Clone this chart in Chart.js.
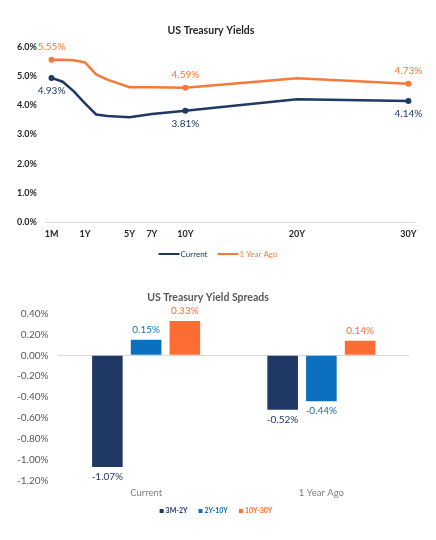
<!DOCTYPE html>
<html>
<head>
<meta charset="utf-8">
<title>US Treasury Yields</title>
<script src="https://cdn.jsdelivr.net/npm/chart.js@4.4.1/dist/chart.umd.min.js"></script>
<style>
  html, body { margin: 0; padding: 0; background: #fff; }
  #wrap { position: relative; width: 436px; height: 540px; }
  .box { position: absolute; left: 0; width: 436px; }
  #top { top: 0; height: 272px; }
  #bottom { top: 272px; height: 268px; }
</style>
</head>
<body>
<div id="wrap">
  <div class="box" id="top"><canvas id="yieldChart"></canvas></div>
  <div class="box" id="bottom"><canvas id="spreadChart"></canvas></div>
</div>
<script>
// maturity axis: one slot per year after 1Y, only some slots carry a label
const axisLabels = ['1M', '3M', '6M', '1Y', '2Y', '3Y', '4Y', '5Y', '6Y', '7Y', '8Y', '9Y', '10Y',
  '11Y', '12Y', '13Y', '14Y', '15Y', '16Y', '17Y', '18Y', '19Y', '20Y',
  '21Y', '22Y', '23Y', '24Y', '25Y', '26Y', '27Y', '28Y', '29Y', '30Y'];
const shownTicks = ['1M', '1Y', '5Y', '7Y', '10Y', '20Y', '30Y'];

// yield curve (in %)
const maturities = ['1M', '3M', '6M', '1Y', '2Y', '3Y', '5Y', '7Y', '10Y', '20Y', '30Y'];
const currentYields = [4.93, 4.80, 4.47, 4.06, 3.68, 3.63, 3.59, 3.70, 3.81, 4.20, 4.14];
const yearAgoYields = [5.55, 5.55, 5.53, 5.46, 5.05, 4.87, 4.61, 4.61, 4.59, 4.92, 4.73];
const labelledMaturities = ['1M', '10Y', '30Y'];

// spreads (in %)
const spreadGroups = ['Current', '1 Year Ago'];
const spread3m2y = [-1.07, -0.52];
const spread2y10y = [0.15, -0.44];
const spread10y30y = [0.33, 0.14];

const NAVY = '#1f3864';
const ORANGE = '#f4793b';
const BLUE = '#0b70c0';
const BAR_ORANGE = '#fd6d33';
const FONT = "Lato, 'Liberation Sans', sans-serif";

// writes the value next to a point or bar end
const valueLabels = {
    id: 'valueLabels',
    afterDatasetsDraw(chart, args, opts) {
        const ctx = chart.ctx;
        chart.data.datasets.forEach((ds, i) => {
            const meta = chart.getDatasetMeta(i);
            meta.data.forEach((el, j) => {
                const raw = ds.data[j];
                const v = (raw !== null && typeof raw === 'object') ? raw.y : raw;
                if (ds.labelAt && !ds.labelAt.includes(raw.x)) return;
                let dy;
                if (ds.labelSide === 'above') dy = -opts.gap;
                else if (ds.labelSide === 'below') dy = opts.gap;
                else dy = v >= 0 ? -opts.gap : opts.gap;
                ctx.save();
                ctx.font = opts.font;
                ctx.fillStyle = ds.labelColor;
                ctx.textAlign = 'center';
                ctx.textBaseline = 'middle';
                ctx.fillText(v.toFixed(2) + '%', el.x, el.y + dy);
                ctx.restore();
            });
        });
    }
};

// legend drawn by hand so its spacing can match the original
const bottomLegend = {
    id: 'bottomLegend',
    afterDraw(chart, args, o) {
        const ctx = chart.ctx;
        ctx.save();
        ctx.font = o.font;
        const items = chart.data.datasets.map(ds => ({
            text: ds.label, color: ds.labelColor, w: ctx.measureText(ds.label).width
        }));
        const total = items.reduce((s, it) => s + o.markW + o.markGap + it.w, 0) + o.itemGap * (items.length - 1);
        let x = o.cx - total / 2;
        items.forEach(it => {
            ctx.fillStyle = it.color;
            ctx.fillRect(x, o.y - o.markH / 2, o.markW, o.markH);
            x += o.markW + o.markGap;
            ctx.textAlign = 'left';
            ctx.textBaseline = 'middle';
            ctx.fillText(it.text, x, o.y);
            x += it.w + o.itemGap;
        });
        ctx.restore();
    }
};

function toPoints(values) {
    return maturities.map((m, i) => ({ x: m, y: values[i] }));
}

function markRadius(ctx) {
    return ctx.raw && labelledMaturities.includes(ctx.raw.x) ? 3 : 0;
}

// Gráfico 1: curva de rendimientos
new Chart(document.getElementById('yieldChart').getContext('2d'), {
    type: 'line',
    data: {
        labels: axisLabels,
        datasets: [{
            label: 'Current',
            data: toPoints(currentYields),
            borderColor: NAVY,
            backgroundColor: NAVY,
            borderWidth: 2.5,
            pointRadius: markRadius,
            pointBackgroundColor: NAVY,
            pointBorderWidth: 0,
            tension: 0,
            spanGaps: true,
            labelAt: labelledMaturities,
            labelSide: 'below',
            labelColor: NAVY
        }, {
            label: '1 Year Ago',
            data: toPoints(yearAgoYields),
            borderColor: ORANGE,
            backgroundColor: ORANGE,
            borderWidth: 2.5,
            pointRadius: markRadius,
            pointBackgroundColor: ORANGE,
            pointBorderWidth: 0,
            tension: 0,
            spanGaps: true,
            labelAt: labelledMaturities,
            labelSide: 'above',
            labelColor: ORANGE
        }]
    },
    options: {
        responsive: true,
        maintainAspectRatio: false,
        animation: false,
        layout: { padding: { top: 24, left: 8, right: 22, bottom: 27 } },
        scales: {
            x: {
                type: 'category',
                offset: true,
                grid: { display: false, drawTicks: false },
                border: { display: true, color: '#d9d9d9', width: 1 },
                ticks: {
                    autoSkip: false,
                    maxRotation: 0,
                    padding: 6,
                    color: '#262626',
                    font: { family: FONT, size: 9, weight: 'bold' },
                    callback: (val, idx) => shownTicks.includes(axisLabels[idx]) ? axisLabels[idx] : ''
                }
            },
            y: {
                min: 0,
                max: 6,
                grid: { display: false, drawTicks: false },
                border: { display: false },
                ticks: {
                    stepSize: 1,
                    padding: 9,
                    color: '#262626',
                    font: { family: FONT, size: 9, weight: 'bold' },
                    callback: v => v.toFixed(1) + '%'
                }
            }
        },
        plugins: {
            title: {
                display: true,
                text: 'US Treasury Yields',
                color: '#262626',
                font: { family: FONT, size: 10.5, weight: 'bold' },
                padding: { top: 0, bottom: 10 }
            },
            legend: { display: false },
            tooltip: { enabled: false },
            valueLabels: { gap: 13, font: '10px ' + FONT },
            bottomLegend: { cx: 218, y: 254, markW: 21, markH: 2, markGap: 1, itemGap: 10, font: '8px ' + FONT }
        }
    },
    plugins: [valueLabels, bottomLegend]
});

// Gráfico 2: diferenciales
new Chart(document.getElementById('spreadChart').getContext('2d'), {
    type: 'bar',
    data: {
        labels: spreadGroups,
        datasets: [{
            label: '3M-2Y',
            data: spread3m2y,
            backgroundColor: NAVY,
            labelColor: NAVY
        }, {
            label: '2Y-10Y',
            data: spread2y10y,
            backgroundColor: BLUE,
            labelColor: BLUE
        }, {
            label: '10Y-30Y',
            data: spread10y30y,
            backgroundColor: BAR_ORANGE,
            labelColor: BAR_ORANGE
        }]
    },
    options: {
        responsive: true,
        maintainAspectRatio: false,
        animation: false,
        categoryPercentage: 0.663,
        barPercentage: 0.79,
        layout: { padding: { top: 19, left: 7, right: 27, bottom: 34 } },
        scales: {
            x: {
                grid: { display: false, drawTicks: false },
                border: { display: false },
                ticks: {
                    padding: 7,
                    color: '#7f7f7f',
                    font: { family: FONT, size: 9.5 }
                }
            },
            y: {
                min: -1.2,
                max: 0.4,
                grid: {
                    drawTicks: false,
                    color: ctx => Math.abs(ctx.tick.value) < 1e-9 ? '#d9d9d9' : 'rgba(0,0,0,0)'
                },
                border: { display: false },
                ticks: {
                    stepSize: 0.2,
                    padding: 10,
                    color: '#595959',
                    font: { family: FONT, size: 10 },
                    callback: v => (Math.abs(v) < 1e-9 ? 0 : v).toFixed(2) + '%'
                }
            }
        },
        plugins: {
            title: {
                display: true,
                text: 'US Treasury Yield Spreads',
                color: '#595959',
                font: { family: FONT, size: 10.5, weight: 'bold' },
                padding: { top: 0, bottom: 10 }
            },
            legend: { display: false },
            tooltip: { enabled: false },
            valueLabels: { gap: 10, font: '10px ' + FONT },
            bottomLegend: { cx: 216, y: 239, markW: 4, markH: 4, markGap: 2, itemGap: 11, font: 'bold 7px ' + FONT }
        }
    },
    plugins: [valueLabels, bottomLegend]
});
</script>
</body>
</html>
